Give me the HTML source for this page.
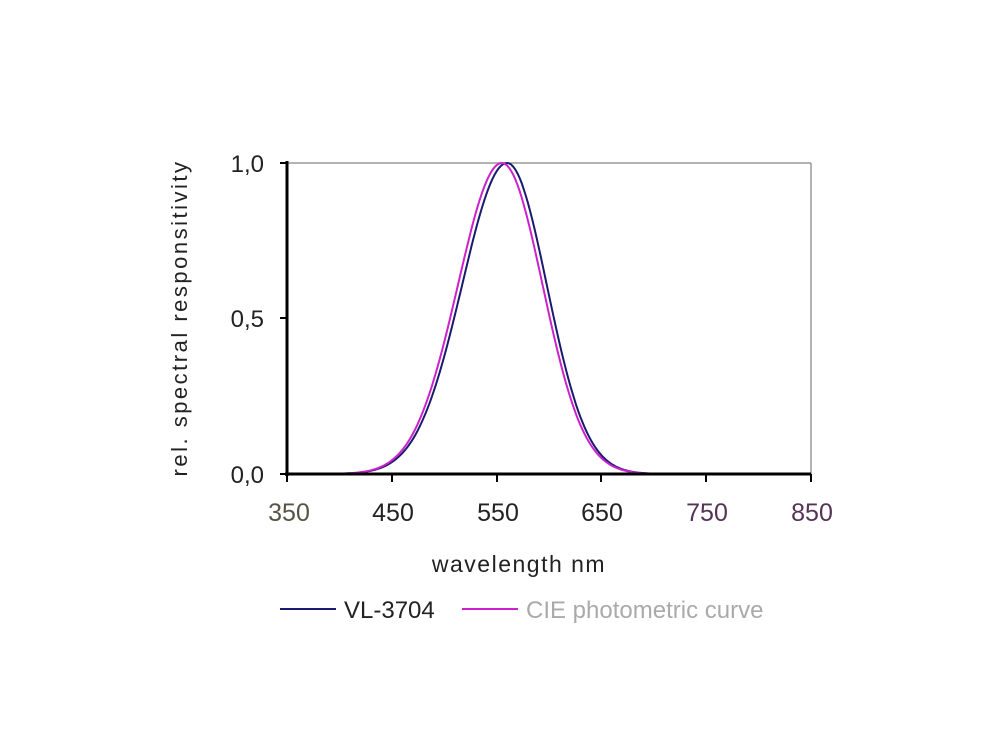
<!DOCTYPE html>
<html><head><meta charset="utf-8"><style>
html,body{margin:0;padding:0;background:#fff;width:1000px;height:750px;overflow:hidden}
text{font-family:"Liberation Sans",sans-serif}
</style></head><body>
<svg width="1000" height="750" xmlns="http://www.w3.org/2000/svg">
<line x1="287" y1="163" x2="811" y2="163" stroke="#999" stroke-width="1.5"/>
<line x1="811" y1="163" x2="811" y2="474" stroke="#999" stroke-width="1.5"/>
<path id="vl" fill="none" stroke="#1a1a6e" stroke-width="2"/>
<path id="cie" fill="none" stroke="#cc22cc" stroke-width="2"/>
<line x1="287" y1="161" x2="287" y2="476" stroke="#000" stroke-width="3"/>
<line x1="285" y1="474" x2="811" y2="474" stroke="#000" stroke-width="3"/>
<g stroke="#000" stroke-width="2">
<line x1="280" y1="163" x2="287" y2="163"/><line x1="280" y1="318" x2="287" y2="318"/><line x1="280" y1="474" x2="287" y2="474"/>
<line x1="287" y1="474" x2="287" y2="482"/><line x1="392" y1="474" x2="392" y2="482"/><line x1="497" y1="474" x2="497" y2="482"/><line x1="601" y1="474" x2="601" y2="482"/><line x1="706" y1="474" x2="706" y2="482"/><line x1="811" y1="474" x2="811" y2="482"/>
</g>
<g font-size="24" fill="#222" text-anchor="end">
<text x="264" y="172">1,0</text><text x="264" y="327">0,5</text><text x="264" y="483">0,0</text>
</g>
<g font-size="25" text-anchor="middle">
<text x="289" y="521" fill="#554">350</text><text x="393" y="521" fill="#222">450</text><text x="498" y="521" fill="#222">550</text><text x="602" y="521" fill="#222">650</text><text x="707" y="521" fill="#535">750</text><text x="812" y="521" fill="#535">850</text>
</g>
<text x="519" y="572" font-size="23" fill="#222" text-anchor="middle" letter-spacing="1.5">wavelength nm</text>
<text transform="translate(187,318) rotate(-90)" font-size="22" fill="#222" text-anchor="middle" letter-spacing="2.5">rel. spectral responsitivity</text>
<line x1="280" y1="609" x2="336" y2="609" stroke="#1a1a6e" stroke-width="2"/>
<text x="344" y="618" font-size="24" fill="#222">VL-3704</text>
<line x1="462" y1="609" x2="518" y2="609" stroke="#cc22cc" stroke-width="2"/>
<text x="526" y="618" font-size="24" fill="#aaa">CIE photometric curve</text>
</svg>
<script>
function path(peak,sl,sr){var d="";for(var l=350;l<=850;l+=2){var s=l<peak?sl:sr;var v=Math.exp(-Math.pow((l-peak)/s,2)/2);var x=287+(l-350)*1.048,y=474-v*311;d+=(d?"L":"M")+x.toFixed(1)+","+y.toFixed(1);}return d;}
document.getElementById("cie").setAttribute("d",path(555,42,39));
document.getElementById("vl").setAttribute("d",path(560,43,38));
</script>
</body></html>
